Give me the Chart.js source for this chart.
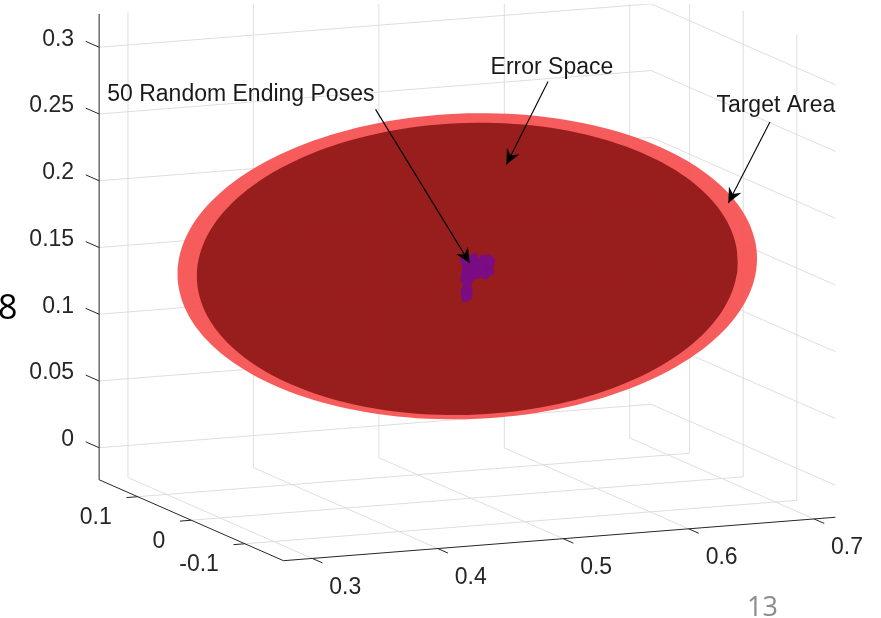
<!DOCTYPE html>
<html>
<head>
<meta charset="utf-8">
<script src="https://cdn.jsdelivr.net/npm/chart.js@4.4.0/dist/chart.umd.min.js"></script>
<style>
  html, body { margin: 0; padding: 0; background: #fff; }
  #wrap { position: relative; width: 881px; height: 618px; overflow: hidden; }
  #c { position: absolute; left: 0; top: 0; }
  .slide { position: absolute; font-family: "Open Sans", sans-serif; line-height: 1; }
</style>
</head>
<body>
<div id="wrap">
  <canvas id="c" width="881" height="618"></canvas>
  <div class="slide" style="left:-2px; top:289px; font-size:34px; color:#000;">8</div>
  <div class="slide" style="left:747px; top:592px; font-size:27px; color:#8c8c8c;">13</div>
</div>
<script>
// axis limits and ticks
const xLim = [0.277, 0.717];
const yLim = [-0.172, 0.172];
const zLim = [-0.024, 0.325];
const xTicks = [0.3, 0.4, 0.5, 0.6, 0.7];
const yTicks = [-0.1, 0, 0.1];
const zTicks = [0, 0.05, 0.1, 0.15, 0.2, 0.25, 0.3];
const xTickLabels = ['0.3', '0.4', '0.5', '0.6', '0.7'];
const yTickLabels = ['-0.1', '0', '0.1'];
const zTickLabels = ['0', '0.05', '0.1', '0.15', '0.2', '0.25', '0.3'];

// ellipsoids: centre [x, y, z] and radii [rx, ry, rz]
const targetCenter = [0.497, 0, 0.150];
const targetRadii = [0.219, 0.172, 0.1094];
const errorCenter = [0.497, 0, 0.148];
const errorRadii = [0.2044, 0.1605, 0.1047];

// 50 ending poses
const poseX = [0.4950, 0.4950, 0.4950, 0.4950, 0.4950, 0.4950, 0.4950,
  0.4982, 0.4982, 0.4982, 0.4982, 0.4982, 0.4982, 0.4982,
  0.4966, 0.4966, 0.4966, 0.4966, 0.4966, 0.4966,
  0.5029, 0.5029, 0.5029, 0.5029, 0.5077, 0.5077, 0.5077,
  0.5124, 0.5124, 0.5124, 0.5124, 0.5155, 0.5155, 0.5155,
  0.5053, 0.5100, 0.5053, 0.5100, 0.5148, 0.5053, 0.5100, 0.5005, 0.5005, 0.5005,
  0.4958, 0.4934, 0.4990, 0.5037, 0.5092, 0.5140];
const poseY = [0.001, -0.001, 0.000, 0.002, -0.002, 0.001, 0.000,
  -0.001, 0.002, 0.000, -0.002, 0.001, -0.001, 0.000,
  0.002, -0.001, 0.001, 0.000, -0.002, 0.001,
  0.000, 0.001, -0.001, 0.002, -0.002, 0.000, 0.001,
  0.001, -0.001, 0.000, 0.002, -0.002, 0.001, 0.000,
  0.000, 0.001, -0.002, 0.002, -0.001, 0.000, 0.001, -0.001, 0.002, 0.000,
  0.001, -0.001, 0.000, 0.002, -0.002, 0.001];
const poseZ = [0.1537, 0.1493, 0.1448, 0.1404, 0.1359, 0.1315, 0.1278,
  0.1537, 0.1493, 0.1448, 0.1404, 0.1359, 0.1315, 0.1278,
  0.1515, 0.1470, 0.1426, 0.1382, 0.1337, 0.1293,
  0.1539, 0.1495, 0.1451, 0.1421, 0.1539, 0.1495, 0.1451,
  0.1533, 0.1488, 0.1444, 0.1414, 0.1533, 0.1488, 0.1444,
  0.1517, 0.1510, 0.1473, 0.1466, 0.1510, 0.1428, 0.1429, 0.1524, 0.1480, 0.1436,
  0.1256, 0.1559, 0.1559, 0.1561, 0.1555, 0.1547];

// text arrows
const noteText = ['50 Random Ending Poses', 'Error Space', 'Target Area'];
const noteAt = [[0.3165, 0, 0.2921], [0.5645, 0, 0.2936], [0.743, 0, 0.2524]];
const arrowFrom = [[0.4239, 0, 0.2729], [0.5614, 0, 0.2836], [0.7383, 0, 0.2402]];
const arrowTo = [[0.4990, 0, 0.1522], [0.5282, 0, 0.2239], [0.7051, 0, 0.1820]];

// view: where the axes box lands on the page (corner = xmin, ymax, zmin)
const view = { corner: [96, 482], xEdge: [557, -44], yEdge: [186, 82], zEdge: [0, -472] };

function proj(x, y, z) {
  const u = (x - xLim[0]) / (xLim[1] - xLim[0]);
  const v = (yLim[1] - y) / (yLim[1] - yLim[0]);
  const w = (z - zLim[0]) / (zLim[1] - zLim[0]);
  return {
    x: view.corner[0] + u * view.xEdge[0] + v * view.yEdge[0] + w * view.zEdge[0],
    y: view.corner[1] + u * view.xEdge[1] + v * view.yEdge[1] + w * view.zEdge[1]
  };
}

// outline of an ellipsoid seen through the view
function outline(c, r) {
  const a = view.xEdge.map(d => d / (xLim[1] - xLim[0]) * r[0]);
  const b = view.yEdge.map(d => d / (yLim[1] - yLim[0]) * r[1]);
  const g = view.zEdge.map(d => d / (zLim[1] - zLim[0]) * r[2]);
  const sxx = a[0] * a[0] + b[0] * b[0] + g[0] * g[0];
  const sxy = a[0] * a[1] + b[0] * b[1] + g[0] * g[1];
  const syy = a[1] * a[1] + b[1] * b[1] + g[1] * g[1];
  const l11 = Math.sqrt(sxx), l21 = sxy / l11, l22 = Math.sqrt(syy - l21 * l21);
  const p0 = proj(c[0], c[1], c[2]);
  const pts = [];
  for (let i = 0; i <= 180; i++) {
    const t = i / 180 * 2 * Math.PI;
    pts.push({ x: p0.x + l11 * Math.cos(t), y: p0.y + l21 * Math.cos(t) + l22 * Math.sin(t) });
  }
  return pts;
}

const gridColor = '#dedede';
const axisColor = '#262626';
const datasets = [];

function line(p, q, color, width, order) {
  datasets.push({
    data: [proj(...p), proj(...q)],
    showLine: true, pointRadius: 0, borderColor: color, borderWidth: width,
    fill: false, order: order
  });
}

const [x0, x1] = xLim, [y0, y1] = yLim, [z0, z1] = zLim;

// grid on back wall, right wall and floor
xTicks.forEach(t => line([t, y1, z0], [t, y1, z1], gridColor, 1, 100));
zTicks.forEach(t => line([x0, y1, t], [x1, y1, t], gridColor, 1, 100));
yTicks.forEach(t => line([x1, t, z0], [x1, t, z1], gridColor, 1, 100));
zTicks.forEach(t => line([x1, y1, t], [x1, y0, t], gridColor, 1, 100));
xTicks.forEach(t => line([t, y0, z0], [t, y1, z0], gridColor, 1, 100));
yTicks.forEach(t => line([x0, t, z0], [x1, t, z0], gridColor, 1, 100));

// ellipsoids
datasets.push({
  data: outline(targetCenter, targetRadii), showLine: true, pointRadius: 0,
  borderWidth: 0, borderColor: 'rgba(0,0,0,0)', backgroundColor: 'rgba(247,82,82,0.94)',
  fill: 'shape', order: 60
});
datasets.push({
  data: outline(errorCenter, errorRadii), showLine: true, pointRadius: 0,
  borderWidth: 0, borderColor: 'rgba(0,0,0,0)', backgroundColor: 'rgba(148,26,26,0.95)',
  fill: 'shape', order: 50
});

// poses
datasets.push({
  data: poseX.map((x, i) => proj(x, poseY[i], poseZ[i])),
  pointRadius: 3.6, pointBorderWidth: 0, backgroundColor: '#7a0c84', order: 40
});

// axes and ticks
line([x0, y1, z0], [x0, y1, z1], axisColor, 1, 20);
line([x0, y1, z0], [x0, y0, z0], axisColor, 1, 20);
line([x0, y0, z0], [x1, y0, z0], axisColor, 1, 20);
zTicks.forEach(t => line([x0, y1, t], [x0, y1 + 0.025, t], axisColor, 1, 20));
yTicks.forEach(t => line([x0, t, z0], [x0 - 0.009, t, z0], axisColor, 1, 20));
xTicks.forEach(t => line([t, y0, z0], [t, y0 - 0.019, z0], axisColor, 1, 20));

// arrow shafts
arrowFrom.forEach((p, i) => line(p, arrowTo[i], '#000', 1.1, 10));

const textPlugin = {
  id: 'texts',
  afterDraw(chart) {
    const ctx = chart.ctx, sx = chart.scales.x, sy = chart.scales.y;
    const px = p => [sx.getPixelForValue(p.x), sy.getPixelForValue(p.y)];
    ctx.save();
    ctx.font = '23px "Liberation Sans", Arial, sans-serif';
    ctx.fillStyle = axisColor;
    ctx.textBaseline = 'middle';
    ctx.textAlign = 'right';
    zTicks.forEach((t, i) => {
      const [a, b] = px(proj(x0, y1, t));
      ctx.fillText(zTickLabels[i], a - 25, b - 8);
    });
    yTicks.forEach((t, i) => {
      const [a, b] = px(proj(x0, t, z0));
      ctx.fillText(yTickLabels[i], a - 26, b + 21);
    });
    ctx.textAlign = 'center';
    xTicks.forEach((t, i) => {
      const [a, b] = px(proj(t, y0, z0));
      ctx.fillText(xTickLabels[i], a + 33, b + 29);
    });
    // arrow heads
    ctx.fillStyle = '#000';
    arrowTo.forEach((q, i) => {
      const [tx, ty] = px(proj(...q));
      const [fx, fy] = px(proj(...arrowFrom[i]));
      const len = Math.hypot(tx - fx, ty - fy);
      const ux = (tx - fx) / len, uy = (ty - fy) / len;
      const nx = -uy, ny = ux;
      ctx.beginPath();
      ctx.moveTo(tx, ty);
      ctx.lineTo(tx - 15 * ux + 7 * nx, ty - 15 * uy + 7 * ny);
      ctx.lineTo(tx - 10 * ux, ty - 10 * uy);
      ctx.lineTo(tx - 15 * ux - 7 * nx, ty - 15 * uy - 7 * ny);
      ctx.closePath();
      ctx.fill();
    });
    ctx.fillStyle = '#1a1a1a';
    noteText.forEach((s, i) => {
      const [a, b] = px(proj(...noteAt[i]));
      ctx.fillText(s, a, b);
    });
    ctx.restore();
  }
};

new Chart(document.getElementById('c'), {
  type: 'scatter',
  data: { datasets: datasets },
  options: {
    responsive: false,
    animation: false,
    events: [],
    layout: { padding: 0 },
    elements: { line: { tension: 0 } },
    plugins: { legend: { display: false }, tooltip: { enabled: false } },
    scales: {
      x: { type: 'linear', min: 0, max: 881, display: false },
      y: { type: 'linear', min: 0, max: 618, reverse: true, display: false }
    }
  },
  plugins: [textPlugin]
});
</script>
</body>
</html>
